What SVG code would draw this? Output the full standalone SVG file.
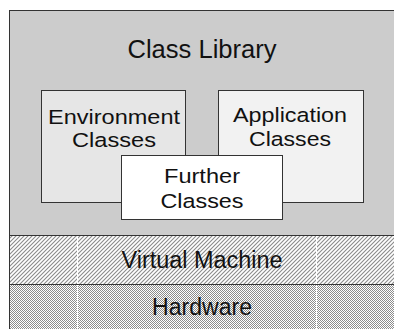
<svg xmlns="http://www.w3.org/2000/svg" width="394" height="329" viewBox="0 0 394 329">
  <style>
    .lbl { font-family: "Liberation Sans", Arial, sans-serif; font-size: 23px; fill: #111; text-anchor: middle; }
    .two { font-size: 20.5px; }
    .big { font-size: 25px; }
    .box { stroke: #333; stroke-width: 1; }
  </style>
  <defs>
    <pattern id="hatch" width="4" height="4" patternUnits="userSpaceOnUse">
      <rect width="4" height="4" fill="#ffffff"/>
      <path d="M-1,1 L1,-1 M0,4 L4,0 M3,5 L5,3" stroke="#8a8a8a" stroke-width="1.1"/>
    </pattern>
    <pattern id="checker" width="2" height="2" patternUnits="userSpaceOnUse">
      <rect width="2" height="2" fill="#ffffff"/>
      <rect x="0" y="0" width="1" height="1" fill="#8c8c8c"/>
      <rect x="1" y="1" width="1" height="1" fill="#8c8c8c"/>
    </pattern>
  </defs>
  <rect width="394" height="329" fill="#ffffff"/>

  <g id="class-library">
    <rect x="9.5" y="10.5" width="400" height="225" fill="#cccccc" class="box"/>
    <text class="lbl big" x="202" y="58" textLength="149" lengthAdjust="spacingAndGlyphs">Class Library</text>
  </g>

  <g id="virtual-machine">
    <rect x="9.5" y="235.5" width="400" height="49" fill="url(#hatch)" class="box"/>
    <line x1="77.5" y1="236" x2="77.5" y2="284" stroke="#ffffff" stroke-width="1"/>
    <line x1="316.5" y1="236" x2="316.5" y2="284" stroke="#ffffff" stroke-width="1"/>
    <text class="lbl" x="202" y="268" textLength="161" lengthAdjust="spacingAndGlyphs">Virtual Machine</text>
  </g>

  <g id="hardware">
    <rect x="9.5" y="284.5" width="400" height="60" fill="url(#checker)" class="box"/>
    <line x1="77.5" y1="285" x2="77.5" y2="329" stroke="#ffffff" stroke-width="1"/>
    <line x1="316.5" y1="285" x2="316.5" y2="329" stroke="#ffffff" stroke-width="1"/>
    <text class="lbl" x="202" y="315" textLength="100" lengthAdjust="spacingAndGlyphs">Hardware</text>
  </g>

  <g id="environment-classes">
    <rect x="41.5" y="90.5" width="144" height="112" fill="#e6e6e6" class="box"/>
    <text class="lbl two" x="114" y="124" textLength="132" lengthAdjust="spacingAndGlyphs">Environment</text>
    <text class="lbl two" x="114" y="147" textLength="84" lengthAdjust="spacingAndGlyphs">Classes</text>
  </g>

  <g id="application-classes">
    <rect x="218.5" y="90.5" width="145" height="112" fill="#f2f2f2" class="box"/>
    <text class="lbl two" x="290" y="122" textLength="114" lengthAdjust="spacingAndGlyphs">Application</text>
    <text class="lbl two" x="290" y="146" textLength="82" lengthAdjust="spacingAndGlyphs">Classes</text>
  </g>

  <g id="further-classes">
    <rect x="121.5" y="155.5" width="161" height="64" fill="#ffffff" class="box"/>
    <text class="lbl two" x="202" y="183" textLength="76" lengthAdjust="spacingAndGlyphs">Further</text>
    <text class="lbl two" x="202" y="208" textLength="83" lengthAdjust="spacingAndGlyphs">Classes</text>
  </g>

  <g id="connectors"></g>
</svg>
